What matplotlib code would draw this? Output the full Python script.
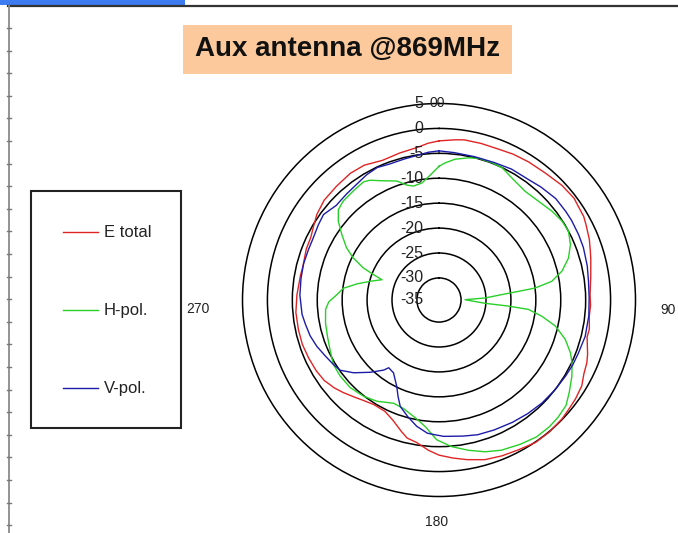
import numpy as np
import matplotlib
matplotlib.use("Agg")
import matplotlib.pyplot as plt
from matplotlib.patches import Rectangle
from matplotlib.lines import Line2D
import matplotlib.transforms as mtransforms

plt.rcParams['font.family'] = ['Liberation Sans', 'DejaVu Sans']

TITLE = "Aux antenna @869MHz"
SERIES_NAMES = ["E total", "H-pol.", "V-pol."]
SERIES_COLORS = ["#e02424", "#28d028", "#1c1ca8"]

RADIAL_TICKS = [5, 0, -5, -10, -15, -20, -25, -30, -35]
RADIAL_LABELS = ["5", "0", "-5", "-10", "-15", "-20", "-25", "-30", "-35"]
THETA_TICKS = [0, 90, 180, 270]
THETA_LABELS = ["00", "90", "180", "270"]

# E total (angle deg, level dB)
e_angle = [0, 6, 9, 15, 21, 27, 33, 40, 47, 53, 57, 60, 63, 68, 72, 75, 81, 88, 92, 96,
           101, 104, 110, 113, 117, 121, 126, 130, 134, 140, 146, 152, 158, 164, 170, 175,
           180, 184, 189, 193, 196, 201, 206, 212, 217, 221, 226, 230, 235, 240, 246, 252,
           258, 265, 272, 280, 284, 291, 296, 300, 305, 311, 318, 325, 331, 338, 345, 352, 356, 360]
e_db = [-2.5, -2.1, -1.9, -1.9, -1.9, -1.6, -1.4, -1.2, -0.7, -0.5, -0.8, -0.9, -1.3, -1.9, -2.5, -2.9,
        -3.6, -4.1, -4.0, -4.1, -3.7, -3.8, -2.7, -2.2, -1.8, -1.0, -0.6, -0.4, -0.1, 0.1, 0.1, -0.4,
        -0.7, -1.1, -1.9, -2.6, -3.3, -4.2, -5.5, -6.0, -7.0, -8.6, -9.6, -9.7, -9.2, -8.6, -7.7, -7.0,
        -6.3, -6.0, -5.8, -5.6, -5.6, -5.6, -5.9, -6.2, -6.3, -5.9, -5.8, -5.3, -4.5, -3.9, -3.7, -3.4,
        -3.5, -4.2, -3.9, -3.5, -2.9, -2.5]

# H-pol.
h_angle = [0, 2.5, 6.5, 11.7, 15.6, 21, 25.4, 30.8, 38.4, 45.2, 51.8, 57.3, 62, 67.1, 72, 76.8,
           80.6, 82.9, 83.8, 85.1, 87.5, 89.3, 94.1, 95, 96, 98.9, 102.6, 107.3, 111.9, 115.3,
           119.8, 125.3, 129.7, 134.6, 138.9, 144.5, 150.6, 157.5, 163.1, 168.9, 175.1, 181, 186,
           190.4, 198, 203.7, 211.5, 218.1, 225.3, 232.4, 238.6, 245.6, 252.1, 258.6, 265.3, 269,
           273, 277, 281, 285.2, 289.6, 291.2, 293, 296.2, 299.5, 304, 308.1, 311.9, 315.9, 321.9,
           327.4, 330.1, 334, 340.5, 344.4, 347.4, 351.7, 356, 360]
h_db = [-7.6, -6.9, -6.0, -5.3, -4.9, -4.9, -5.0, -5.9, -6.6, -6.3, -5.6, -5.1, -5.0, -5.8, -7.1, -9.1,
        -11.5, -15.0, -18.4, -21.8, -25.2, -29.2, -25.2, -20.5, -16.4, -13.6, -10.5, -7.9, -6.0, -4.9,
        -3.7, -2.4, -1.3, -0.9, -0.7, -0.7, -1.2, -1.8, -2.6, -3.7, -4.9, -6.4, -8.8,
        -10.1, -11.5, -11.8, -10.6, -9.9, -9.4, -9.4, -9.6, -10.4, -10.9, -11.2, -11.6, -12.3,
        -13.9, -15.1, -17.6, -20.1, -22.3, -20.3, -17.9, -15.2, -13.1, -10.9, -8.75, -7.3, -6.8, -6.6,
        -6.3, -6.7, -7.8, -9.1, -10.5, -11.0, -10.7, -9.3, -7.6]

# V-pol.
v_angle = [0, 6, 14, 22, 29, 37, 42, 49, 55, 59, 65, 70, 77, 83, 89, 96, 104, 111, 116, 121, 128,
           135, 142, 149, 157, 164, 170, 178, 182, 185, 190, 195, 200, 203, 206, 212, 216.6, 218.3,
           223.6, 229.6, 234.6, 238.6, 243.8, 249.3, 254.4, 259.6, 264, 272, 279, 285, 291, 296,
           302, 306.5, 312.6, 319, 325, 330, 335, 340, 346, 351, 356, 360]
v_db = [-4.5, -4.7, -4.8, -4.7, -4.4, -4.3, -3.9, -3.4, -3.4, -3.4, -3.5, -3.6, -3.9, -4.2, -4.3, -4.2,
        -4.2, -4.5, -4.6, -4.8, -5.0, -5.2, -5.5, -5.8, -6.1, -6.3, -6.7, -7.05, -7.4, -7.6, -8.7, -10.2,
        -11.7, -13.4, -15.1, -17.2, -17.5, -16.5, -14.4, -11.9, -10.1, -9.6, -9.0, -8.2, -7.6, -7.2,
        -6.8, -6.5, -6.4, -6.3, -6.35, -6.3, -5.9, -5.6, -6.4, -6.2, -5.9, -5.4, -5.1, -5.4, -5.3,
        -5.1, -4.7, -4.5]

RMIN, RMAX = -34.43, 5

W, H = 678, 533
fig = plt.figure(figsize=(W / 100, H / 100), dpi=100)
fig.patch.set_facecolor("white")

def fx(px):
    return px / W

def fy(py):
    return 1 - py / H

# decorative frame
fig.add_artist(Rectangle((fx(0), fy(5)), fx(185), 5 / H, transform=fig.transFigure,
                         color="#3c7cf0", lw=0))
fig.add_artist(Line2D([fx(8), fx(678)], [fy(6), fy(6)], transform=fig.transFigure,
                      color="#333333", lw=1.6))
fig.add_artist(Line2D([fx(8.5), fx(8.5)], [fy(6), fy(533)], transform=fig.transFigure,
                      color="#8a8a8a", lw=1.3))
for ty in np.arange(28, 533, 22.6):
    fig.add_artist(Line2D([fx(6.5), fx(10.5)], [fy(ty), fy(ty)], transform=fig.transFigure,
                          color="#777777", lw=1.0))

# title
fig.text(fx(347.5), fy(49.5), TITLE, ha="center", va="center", fontsize=20, fontweight="bold",
         color="#111111",
         bbox=dict(boxstyle="square,pad=0.42", facecolor="#fbc99b", edgecolor="none"))

# polar axes
cx, cy, R = 439, 300, 196.5
ax = fig.add_axes([fx(cx - R), fy(cy + R), 2 * R / W, 2 * R / H], projection="polar")
ax.set_theta_zero_location("N")
ax.set_theta_direction(-1)
ax.set_rlim(RMIN, RMAX)
ax.set_facecolor("white")

for ang, db, col in [(e_angle, e_db, SERIES_COLORS[0]),
                     (h_angle, h_db, SERIES_COLORS[1]),
                     (v_angle, v_db, SERIES_COLORS[2])]:
    ax.plot(np.deg2rad(ang), db, color=col, lw=1.0)

ring_vals = [t for t in RADIAL_TICKS if t > RMIN and t < RMAX]
ax.set_rgrids(ring_vals, labels=[""] * len(ring_vals))
ax.yaxis.grid(True, color="black", lw=1.1)
ax.xaxis.grid(False)
ax.set_xticks([])
ax.spines["polar"].set_color("black")
ax.spines["polar"].set_linewidth(1.1)

# radial labels along the top
lab_tr = mtransforms.offset_copy(ax.transData, fig=fig, x=-16, y=0, units="dots")
for v, s in zip(RADIAL_TICKS, RADIAL_LABELS):
    ax.text(0, max(v, RMIN), s, transform=lab_tr, ha="right", va="center",
            fontsize=11.5, color="#222222", clip_on=False)

# angle labels
theta_off = {0: (-1.5, 0), 90: (33, -10), 180: (-2, -25.5), 270: (-45, -9)}
for t, s in zip(THETA_TICKS, THETA_LABELS):
    ox, oy = theta_off[t]
    tr = mtransforms.offset_copy(ax.transData, fig=fig, x=ox, y=oy, units="dots")
    ax.text(np.deg2rad(t), RMAX, s, transform=tr, ha="center", va="center",
            fontsize=10, color="#222222", clip_on=False)

# legend
fig.add_artist(Rectangle((fx(31), fy(428)), fx(181) - fx(31), (428 - 191) / H,
                         transform=fig.transFigure, facecolor="white", edgecolor="#222222", lw=1.5))
for name, col, ly in zip(SERIES_NAMES, SERIES_COLORS, [232, 310, 388]):
    fig.add_artist(Line2D([fx(63), fx(98)], [fy(ly), fy(ly)], transform=fig.transFigure,
                          color=col, lw=1.0))
    fig.text(fx(104), fy(ly), name, ha="left", va="center", fontsize=12, color="#222222")

fig.savefig("out.png", dpi=100, facecolor="white")
